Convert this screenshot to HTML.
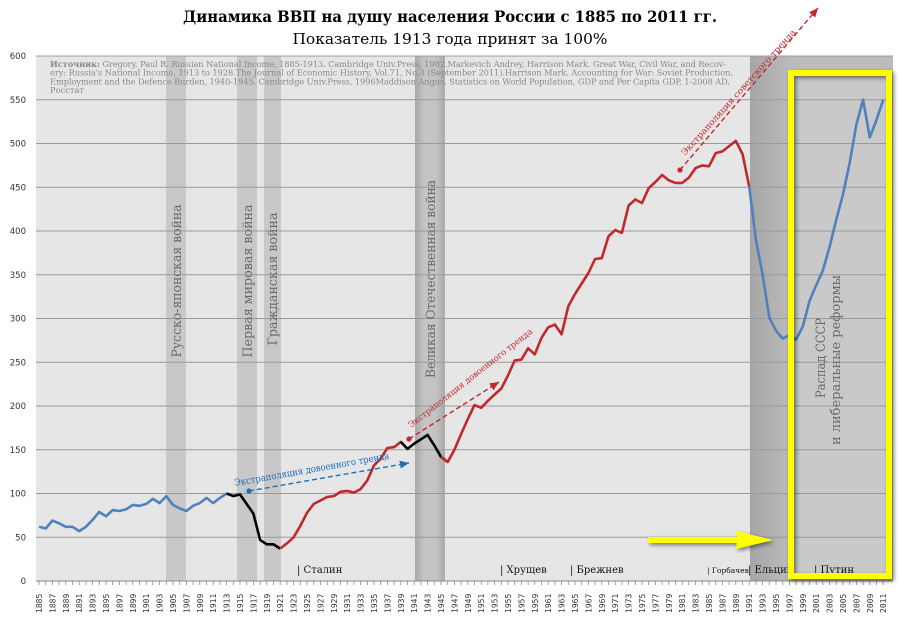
<!DOCTYPE html>
<html><head><meta charset="utf-8">
<style>
html,body{margin:0;padding:0;background:#fff;}
svg{display:block;}
</style></head>
<body>
<svg id="s" width="900" height="622" xmlns="http://www.w3.org/2000/svg" font-family="'DejaVu Serif','Liberation Serif',serif">
<defs>
<linearGradient id="ww" x1="0" x2="1"><stop offset="0" stop-color="#a8a8a8"/><stop offset="0.3" stop-color="#c4c4c4"/><stop offset="0.7" stop-color="#c4c4c4"/><stop offset="1" stop-color="#a8a8a8"/></linearGradient>
<linearGradient id="dk" x1="0" x2="1"><stop offset="0" stop-color="#a6a6a6"/><stop offset="0.3" stop-color="#bcbcbc"/><stop offset="1" stop-color="#bcbcbc"/></linearGradient>
<filter id="sh" x="-20%" y="-20%" width="140%" height="140%"><feDropShadow dx="2" dy="2" stdDeviation="2" flood-color="#000" flood-opacity="0.5"/></filter>
</defs>
<text x="450" y="22" text-anchor="middle" font-size="15.5" font-weight="bold" textLength="534" lengthAdjust="spacingAndGlyphs">Динамика ВВП на душу населения России с 1885 по 2011 гг.</text>
<text x="450" y="44" text-anchor="middle" font-size="15" textLength="315" lengthAdjust="spacingAndGlyphs">Показатель 1913 года принят за 100%</text>
<rect x="36" y="56" width="857" height="525" fill="#e6e6e6"/>
<g id="bands"></g>
<g id="grid"></g>
<g id="series"></g>
<g id="txt"></g>
</svg>
<script>
const NS="http://www.w3.org/2000/svg";
const X=y=>39+6.7*(y-1885), Y=v=>581-0.875*v;
function el(p,t,a,txt){const e=document.createElementNS(NS,t);for(const k in a)e.setAttribute(k,a[k]);if(txt!==undefined)e.textContent=txt;document.getElementById(p).appendChild(e);return e;}
el('bands','rect',{x:166,y:56,width:20,height:525,fill:'#c8c8c8'});
el('bands','rect',{x:237,y:56,width:20,height:525,fill:'#c8c8c8'});
el('bands','rect',{x:264,y:56,width:17,height:525,fill:'#c8c8c8'});
el('bands','rect',{x:415,y:56,width:30,height:525,fill:'url(#ww)'});
el('bands','rect',{x:750,y:56,width:143,height:525,fill:'url(#dk)'});
el('bands','rect',{x:791,y:73,width:98,height:503,fill:'#c9c9c9'});
for(let v=50;v<=600;v+=50){el('grid','line',{x1:36,x2:893,y1:Y(v),y2:Y(v),stroke:'#9a9a9a','stroke-width':1});}
for(let v=0;v<=600;v+=50){el('grid','text',{x:26,y:Y(v)+3,'text-anchor':'end','font-size':8.5,fill:'#333','font-family':"'DejaVu Sans',sans-serif"},String(v));}
el('grid','line',{x1:36,x2:893,y1:581,y2:581,stroke:'#888'});
for(let yr=1885;yr<=2011;yr++){el('grid','line',{x1:X(yr),x2:X(yr),y1:581,y2:585,stroke:'#888','stroke-width':0.8});
 if((yr-1885)%2==0){el('grid','text',{x:0,y:0,transform:`translate(${X(yr)+3},613) rotate(-90)`,'font-size':8,fill:'#333','font-family':"'DejaVu Sans Mono',monospace"},String(yr));}}
const d={1885:62,1886:60,1887:69,1888:66,1889:62,1890:62,1891:57,1892:62,1893:70,1894:79,1895:74,1896:81,1897:80,1898:82,1899:87,1900:86,1901:88,1902:94,1903:89,1904:97,1905:87,1906:83,1907:80,1908:86,1909:89,1910:95,1911:89,1912:95,1913:100,
1914:97,1915:99,1916:88,1917:77,1918:47,1919:42,1920:42,1921:37,
1922:43,1923:50,1924:63,1925:78,1926:88,1927:92,1928:96,1929:97,1930:102,1931:103,1932:101,1933:105,1934:115,1935:132,1936:140,1937:152,1938:153,1939:159,
1940:151,1941:157,1942:162,1943:167,1944:155,1945:142,
1946:136,1947:150,1948:168,1949:185,1950:201,1951:198,1952:206,1953:213,1954:220,1955:235,1956:252,1957:253,1958:266,1959:259,1960:278,1961:290,1962:293,1963:282,1964:314,1965:328,1966:340,1967:352,1968:368,1969:369,1970:394,1971:401,1972:398,1973:429,1974:436,1975:432,1976:449,1977:456,1978:464,1979:458,1980:455,1981:455,1982:461,1983:472,1984:475,1985:474,1986:489,1987:491,1988:497,1989:503,1990:488,1991:451,
1992:390,1993:350,1994:301,1995:286,1996:277,1997:281,1998:276,1999:291,2000:320,2001:338,2002:355,2003:382,2004:413,2005:442,2006:478,2007:522,2008:550,2009:507,2010:527,2011:550};
function seg(a,b,c){let p=[];for(let y=a;y<=b;y++)p.push(X(y).toFixed(1)+','+Y(d[y]).toFixed(1));el('series','polyline',{points:p.join(' '),fill:'none',stroke:c,'stroke-width':2.6,'stroke-linejoin':'round'});}
seg(1885,1913,'#4f81bd');seg(1913,1921,'#000');seg(1921,1940,'#c0282d');seg(1939,1946,'#000');seg(1945,1991,'#c0282d');seg(1991,2011,'#4f81bd');
function tr(x1,y1,x2,y2,c,lbl,lx,ly,ang,fs,tl){el('series','line',{x1,y1,x2,y2,stroke:c,'stroke-width':1.4,'stroke-dasharray':'5,3'});
 el('series','circle',{cx:x1,cy:y1,r:2.6,fill:c});
 const a=Math.atan2(y2-y1,x2-x1),L=9,W=4;const bx=x2-L*Math.cos(a),by=y2-L*Math.sin(a);
 el('series','polygon',{points:`${x2},${y2} ${bx+W*Math.sin(a)},${by-W*Math.cos(a)} ${bx-W*Math.sin(a)},${by+W*Math.cos(a)}`,fill:c});
 el('series','text',{x:0,y:0,transform:`translate(${lx},${ly}) rotate(${ang})`,'font-size':fs,fill:c,textLength:tl,lengthAdjust:'spacingAndGlyphs'},lbl);}
tr(249,491,409,463,'#1f6fb4','Экстраполяция довоенного тренда',235,486,-10,9.5,157);
tr(409,439,499,382,'#c0282d','Экстраполяция довоенного тренда',411,428,-38,8.5,155);
tr(680,170,818,8,'#c0282d','Экстраполяция советского тренда',685,156,-48,8.5,166);
const src=['<tspan font-weight="bold">Источник:</tspan> Gregory, Paul R. Russian National Income, 1885-1913. Cambridge Univ.Press, 1982.Markevich Andrey, Harrison Mark. Great War, Civil War, and Recov-','ery: Russia\'s National Income, 1913 to 1928.The Journal of Economic History, Vol.71, No.3 (September 2011).Harrison Mark. Accounting for War: Soviet Production,','Employment and the Defence Burden, 1940-1945. Cambridge Univ.Press, 1996Maddison Angus. Statistics on World Population, GDP and Per Capita GDP, 1-2008 AD,','Росстат'];
src.forEach((s,i)=>{const t=el('txt','text',{x:50,y:67+i*8.7,'font-size':8.3,fill:'#8a8a8a'});t.innerHTML=s;if(i<3)t.setAttribute('textLength',i==0?676:(i==1?683:680));});
function vl(x,yc,s,fs,tl){el('txt','text',{x:0,y:0,transform:`translate(${x},${yc}) rotate(-90)`,'text-anchor':'middle','font-size':fs,fill:'#6a6a6a',textLength:tl,lengthAdjust:'spacingAndGlyphs'},s);}
vl(181,281,'Русско-японская война',13,153);vl(252,281,'Первая мировая война',13,153);vl(277,279,'Гражданская война',13,133);vl(435,279,'Великая Отечественная война',13,198);
vl(825,358,'Распад СССР',13,80);vl(840,360,'и либеральные реформы',13,170);
function ld(x,s,fs){el('txt','text',{x,y:573,'font-size':fs||10,fill:'#111'},s);}
ld(297,'| Сталин');ld(500,'| Хрущев');ld(570,'| Брежнев');ld(707,'| Горбачев',7.5);ld(748,'| Ельцин');ld(814,'| Путин');
el('txt','rect',{x:791,y:73,width:98,height:503,fill:'none',stroke:'#ffff00','stroke-width':6,filter:'url(#sh)'});
el('txt','polygon',{points:'648,537 737,537 736,531 773,540 736,549 737,543 648,543',fill:'#ffff00',filter:'url(#sh)'});
</script>
</body></html>
